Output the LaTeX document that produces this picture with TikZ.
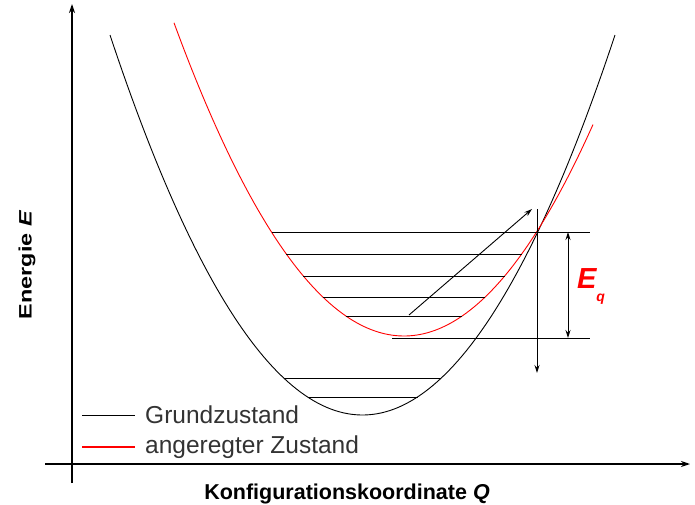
\documentclass[tikz,border=0pt]{standalone}
\usepackage{fontspec}
\setmainfont{Liberation Sans}
\usetikzlibrary{arrows.meta}
\begin{document}
\begin{tikzpicture}[x=1pt,y=-1pt,
  curve/.style={line width=0.9pt},
  level/.style={line width=0.9pt},
  axis/.style={line width=1.3pt,-{Stealth[length=9pt,width=6pt]}},
  arr/.style={line width=0.9pt,-{Stealth[length=8pt,width=5pt]}},
  darr/.style={line width=0.9pt,{Stealth[length=8pt,width=5pt]}-{Stealth[length=8pt,width=5pt]}},
  legtext/.style={anchor=west,inner sep=0pt,font=\fontsize{24.5}{27}\selectfont,text=black!80}]
\useasboundingbox (0,0) rectangle (695,505);
% axes
\coordinate (xa0) at (45,464);
\coordinate (xa1) at (690,464);
\coordinate (ya0) at (72,483);
\coordinate (ya1) at (72,4);
\draw[axis] (xa0) -- (xa1);
\draw[axis] (ya0) -- (ya1);
% ground state parabola
\draw[curve,black] plot[domain=110:615,samples=120] (\x,{415-0.596*((\x-362.5)/10)^2});
% excited state parabola
\draw[curve,red] plot[domain=174:593,samples=120] (\x,{336-0.592*((\x-404)/10)^2});
% ground state levels
\draw[level] (283.7,378) -- (441.3,378);
\draw[level] (307.5,397) -- (417.5,397);
% excited state levels
\draw[level] (272,232) -- (590,232);
\draw[level] (286.3,254) -- (521.7,254);
\draw[level] (303.3,276) -- (504.7,276);
\draw[level] (322.8,297) -- (485.2,297);
\draw[level] (345.9,316) -- (462.1,316);
\draw[level] (392,338) -- (590,338);
% arrows
\coordinate (va0) at (537,209);
\coordinate (va1) at (537,373);
\draw[arr] (va0) -- (va1);
\coordinate (eq0) at (568,232);
\coordinate (eq1) at (568,338);
\draw[darr] (eq0) -- (eq1);
\coordinate (dg0) at (409,315);
\coordinate (dg1) at (532,209);
\draw[arr] (dg0) -- (dg1);
% Eq label
\node[text=red,inner sep=0pt,anchor=center] (eq) at (591,286)
  {\fontsize{29}{30}\selectfont\bfseries\itshape E\raisebox{-0.45em}{\fontsize{14}{15}\selectfont q}};
% legend
\coordinate (lg0) at (82,415);
\coordinate (lg1) at (135,415);
\draw[line width=1pt,black] (lg0) -- (lg1);
\coordinate (lr0) at (82,447);
\coordinate (lr1) at (135,447);
\draw[line width=1.1pt,red] (lr0) -- (lr1);
\node[legtext] (lgt) at (145,415) {Grundzustand};
\node[legtext] (lrt) at (145,447) {angeregter Zustand};
% axis labels
\node[inner sep=0pt,font=\fontsize{21.5}{24}\selectfont\bfseries] (xl) at (347,494)
  {Konfigurationskoordinate \textit{Q}};
\node[inner sep=0pt,rotate=90,font=\fontsize{18}{20}\selectfont\bfseries] (yl) at (27,265)
  {\scalebox{1.3}[1]{Energie \textit{E}}};
\end{tikzpicture}
\end{document}
